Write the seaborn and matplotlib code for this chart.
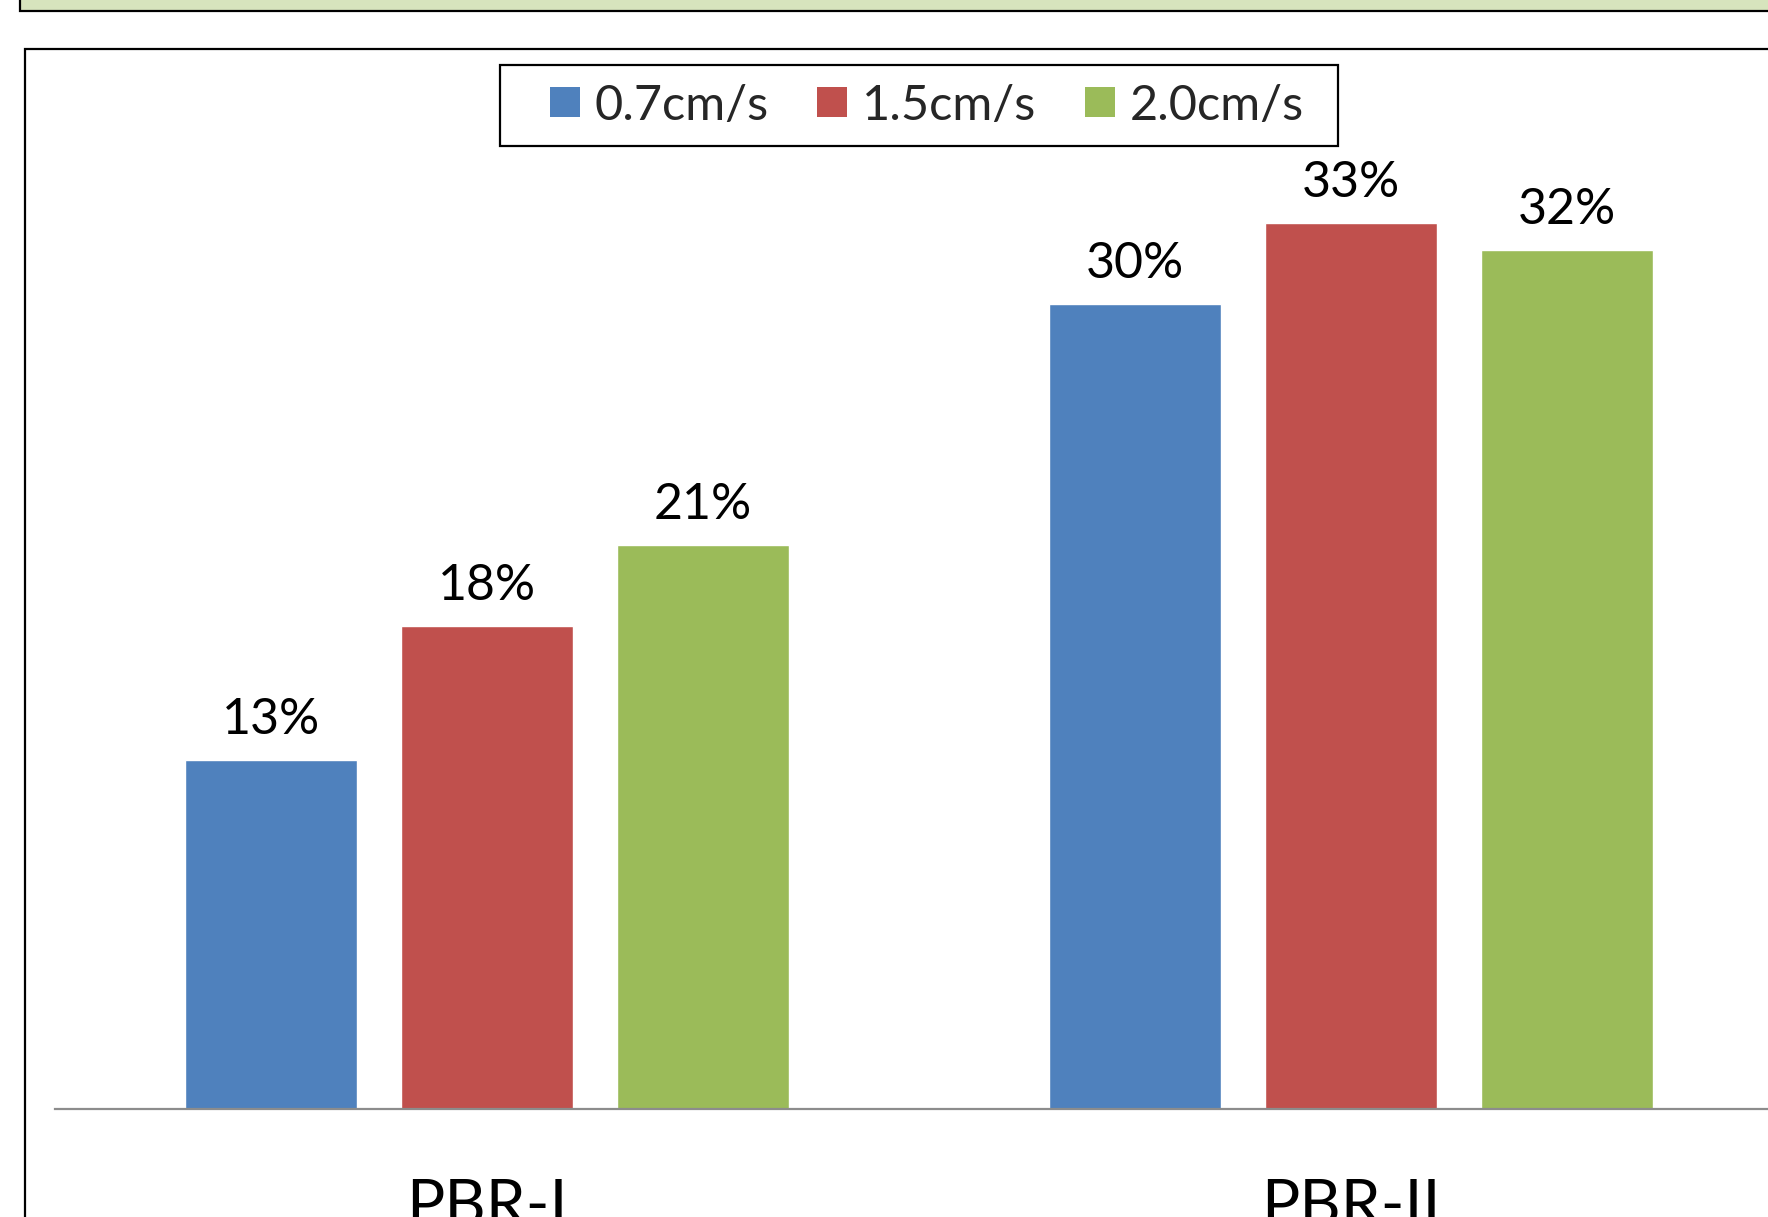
import matplotlib
matplotlib.use("Agg")
import matplotlib.pyplot as plt
from matplotlib.patches import Rectangle
import pandas as pd
import seaborn as sns

# Reactor groups and flow speeds
reactors = ["PBR-I", "PBR-II"]
speeds = ["0.7cm/s", "1.5cm/s", "2.0cm/s"]
vals_07 = [13, 30]
vals_15 = [18, 33]
vals_20 = [21, 32]
colors = ["#4F81BD", "#C0504D", "#9BBB59"]

rows = []
for speed, vals in zip(speeds, [vals_07, vals_15, vals_20]):
    for r, v in zip(reactors, vals):
        rows.append({"reactor": r, "speed": speed, "value": v})
df = pd.DataFrame(rows)

sns.set_theme(style="white")
plt.rcParams["font.family"] = ["Lato", "DejaVu Sans"]

W, H = 1768, 1217
fig = plt.figure(figsize=(W / 100, H / 100), dpi=100)

# Plot area: baseline at y=1109 px, 26.85 px per percent
base_px = 1109
ppu = 26.85
ytop = 40
ax_h = ytop * ppu
left_px, right_px = 55, 1783
ax = fig.add_axes([left_px / W, (H - base_px) / H, (right_px - left_px) / W, ax_h / H])

sns.barplot(data=df, x="reactor", y="value", hue="speed", palette=colors,
            width=0.75, gap=0.2, saturation=1, ax=ax, legend=False)

ax.set_xlim(-0.5, 1.5)
ax.set_ylim(0, ytop)
ax.set_xlabel("")
ax.set_ylabel("")
ax.set_yticks([])
for s in ["left", "right", "top"]:
    ax.spines[s].set_visible(False)
ax.spines["bottom"].set_color("#8c8c8c")
ax.spines["bottom"].set_linewidth(1.6)
ax.tick_params(axis="x", length=0, pad=50, labelsize=46, colors="black")

for cont in ax.containers:
    ax.bar_label(cont, labels=[f"{v:g}%" for v in cont.datavalues],
                 padding=12, fontsize=36, color="black")

# Legend with square colour keys, boxed by a plain rectangle
handles = [Rectangle((0, 0), 1, 1, facecolor=c, edgecolor="none") for c in colors]
leg = fig.legend(handles, speeds, loc="center", bbox_to_anchor=(926.5 / W, 1 - 105.5 / H),
                 ncol=3, fontsize=35, frameon=False,
                 handlelength=0.62, handleheight=0.57, handletextpad=0.3,
                 columnspacing=1.0, borderpad=0.0)
fig.add_artist(Rectangle((500 / W, 1 - 146 / H), 838 / W, 81 / H, transform=fig.transFigure,
                         facecolor="none", edgecolor="black", linewidth=1.6, clip_on=False))

# Header band and chart border
fig.add_artist(Rectangle((20 / W, 1 - 11 / H), 1.05, 0.05, transform=fig.transFigure,
                         facecolor="#D7E4BD", edgecolor="black", linewidth=1.6, clip_on=False))
fig.add_artist(Rectangle((25 / W, -0.05), 1.05, 1.05 - 49 / H, transform=fig.transFigure,
                         facecolor="none", edgecolor="black", linewidth=1.6, clip_on=False))

fig.savefig("out.png", dpi=100)
